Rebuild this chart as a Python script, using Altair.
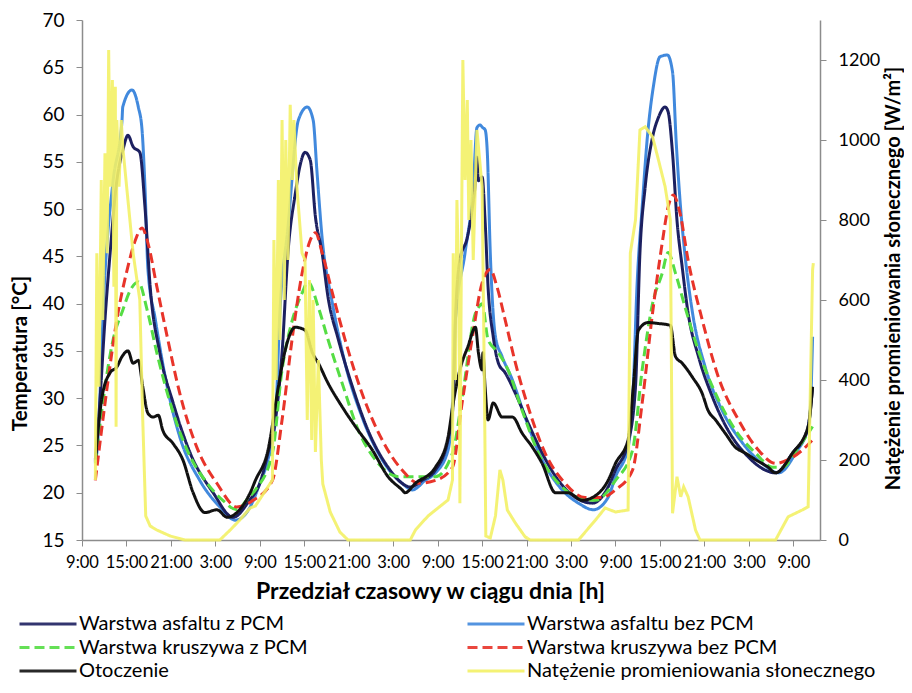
import json
import altair as alt
import pandas as pd

# order chosen so that the two-column legend reads row by row like the reference
SERIES = [
    "Warstwa asfaltu z PCM",
    "Warstwa kruszywa z PCM",
    "Otoczenie",
    "Warstwa asfaltu bez PCM",
    "Warstwa kruszywa bez PCM",
    "Natężenie promieniowania słonecznego",
]
COLORS = ["#1c2060", "#55dd44", "#111111", "#4189dd", "#e8342a", "#f3f166"]
DASHES = [[1, 0], [10, 5], [1, 0], [1, 0], [10, 5], [1, 0]]

# hours counted from the first 9:00
TICK_HOURS = list(range(0, 97, 6))
TICK_LABELS = ["9:00", "15:00", "21:00", "3:00"] * 4 + ["9:00"]
TEMP_TICKS = list(range(15, 71, 5))
RAD_TICKS = list(range(0, 1201, 200))

asfalt_pcm = [(1.8, 23.3), (2.4, 29.5), (3.1, 38.3), (3.8, 45.4), (4.7, 53.0), (5.1, 54.9), (5.5, 56.2),
              (6.2, 57.8), (6.9, 56.6), (7.8, 56.0), (8.5, 50.2), (9.2, 41.8), (10.5, 34.8), (12.3, 29.5),
              (14.6, 24.2), (17.7, 20.0), (20.4, 17.4), (22.6, 19.2), (24.0, 21.0), (25.1, 24.2), (26.1, 27.7),
              (27.0, 34.8), (27.8, 45.4), (28.8, 51.7), (29.4, 54.5), (30.1, 56.0), (30.8, 55.2), (31.5, 49.2),
              (32.4, 45.4), (33.2, 40.7), (34.6, 36.2), (36.5, 31.2), (38.6, 26.6), (41.3, 22.7), (43.2, 21.0),
              (44.3, 20.6), (45.9, 21.3), (47.7, 22.4), (49.4, 25.6), (50.1, 29.5), (50.4, 38.3), (51.0, 44.6),
              (52.0, 47.0), (52.7, 50.2), (53.1, 53.0), (53.3, 55.5), (53.5, 53.0), (54.0, 53.4), (54.4, 48.8),
              (54.8, 41.8), (55.5, 36.5), (56.2, 33.7), (57.1, 32.7), (58.5, 30.5), (60.2, 27.4), (62.1, 24.2),
              (64.3, 21.3), (66.6, 19.5), (68.9, 18.9), (71.0, 20.6), (72.0, 22.4), (73.7, 25.3), (74.7, 31.2),
              (75.3, 45.4), (76.0, 52.3), (77.0, 57.6), (77.8, 59.7), (78.7, 60.8), (79.1, 60.3), (79.7, 55.9),
              (80.3, 48.8), (81.0, 43.9), (81.8, 39.0), (83.2, 34.4), (85.1, 30.1), (87.2, 26.6), (89.9, 23.8),
              (92.2, 22.4), (93.6, 22.1), (95.9, 24.2), (97.9, 26.6), (98.6, 31.2)]

asfalt_bez = [(1.8, 23.3), (2.0, 24.2), (3.1, 43.2), (4.2, 53.0), (5.4, 59.4), (5.5, 60.8), (6.75, 62.6),
              (7.6, 60.8), (8.1, 58.4), (8.5, 52.3), (8.9, 43.6), (9.9, 38.3), (11.5, 31.2), (13.2, 25.9),
              (15.9, 21.3), (18.6, 18.5), (20.7, 17.1), (22.7, 18.5), (24.0, 21.0), (25.1, 23.5), (26.1, 27.7),
              (26.7, 39.0), (27.8, 48.1), (29.2, 59.4), (30.4, 60.8), (31.2, 59.4), (31.7, 54.1), (32.4, 47.0),
              (33.8, 40.0), (35.5, 33.7), (37.8, 28.0), (40.5, 23.5), (43.2, 21.0), (44.6, 20.3), (46.3, 21.3),
              (47.7, 22.1), (49.4, 24.5), (50.1, 31.2), (50.4, 38.3), (51.7, 45.4), (52.8, 52.3), (53.3, 58.6),
              (53.7, 58.9), (54.1, 58.6), (54.4, 58.4), (54.7, 56.0), (55.1, 45.4), (55.8, 36.5), (56.7, 34.4),
              (58.1, 31.9), (59.8, 28.0), (62.1, 23.5), (64.8, 20.3), (67.0, 18.9), (69.0, 18.2), (71.0, 19.5),
              (72.0, 21.7), (73.7, 24.8), (74.4, 31.2), (74.9, 41.8), (75.6, 50.2), (76.3, 57.6), (77.1, 62.9),
              (78.0, 66.1), (79.0, 66.3), (79.7, 64.5), (80.2, 57.0), (80.8, 50.0), (81.4, 45.0), (82.4, 39.0),
              (84.1, 33.3), (86.4, 28.7), (89.1, 25.3), (91.8, 23.1), (94.0, 22.1), (96.3, 24.2), (98.0, 27.0),
              (98.3, 29.0), (98.6, 36.5)]

kruszywo_pcm = [(1.8, 23.1), (2.8, 29.5), (4.2, 36.2), (5.5, 39.3), (6.5, 41.4), (7.6, 42.3), (8.8, 39.3),
                (10.1, 34.8), (11.9, 29.5), (14.2, 24.5), (16.9, 21.0), (19.0, 19.2), (20.9, 18.2), (22.4, 19.4),
                (23.4, 20.3), (25.7, 24.2), (27.0, 33.0), (28.4, 38.3), (29.7, 41.1), (30.5, 42.3), (31.9, 39.6),
                (33.2, 36.2), (35.1, 31.6), (37.3, 26.6), (40.0, 23.1), (42.7, 21.7), (45.0, 21.7), (47.7, 21.7),
                (50.0, 24.2), (51.3, 30.0), (53.1, 39.0), (53.5, 39.6), (54.0, 40.0), (54.8, 36.2), (56.2, 34.8),
                (57.5, 33.0), (59.4, 28.7), (61.6, 24.2), (64.3, 21.0), (67.0, 19.5), (69.3, 19.2), (72.0, 21.3),
                (74.3, 24.5), (75.6, 33.0), (77.0, 40.0), (78.3, 43.2), (79.1, 45.4), (80.1, 43.2), (81.4, 39.6),
                (83.2, 35.0), (85.5, 30.5), (88.2, 26.6), (90.9, 24.2), (93.2, 22.7), (94.5, 22.7), (96.7, 24.8),
                (98.6, 27.0)]

kruszywo_bez = [(1.8, 21.3), (3.4, 31.2), (4.7, 38.3), (6.1, 43.6), (7.2, 46.7), (8.1, 48.0), (8.9, 46.4),
                (10.1, 41.8), (11.5, 36.5), (13.2, 30.5), (15.5, 24.8), (18.2, 21.0), (20.9, 18.5), (23.1, 19.2),
                (25.7, 21.3), (27.0, 27.7), (28.4, 36.5), (29.7, 43.2), (30.8, 46.7), (31.5, 47.5), (32.4, 45.4),
                (33.8, 41.1), (35.5, 36.2), (37.8, 30.5), (40.5, 25.6), (43.2, 22.4), (45.4, 21.0), (47.7, 21.3),
                (50.0, 22.7), (51.3, 29.5), (52.7, 36.5), (54.0, 42.2), (55.1, 43.6), (56.0, 41.8), (57.1, 38.3),
                (58.5, 33.7), (60.2, 29.1), (62.5, 24.2), (65.2, 21.0), (67.9, 19.5), (70.2, 19.5), (72.0, 20.3),
                (74.3, 22.4), (75.6, 29.5), (77.0, 39.0), (78.3, 46.4), (79.1, 50.2), (79.8, 51.5), (80.7, 49.6),
                (81.8, 44.6), (83.7, 38.3), (85.9, 32.2), (88.6, 27.7), (91.3, 24.5), (93.6, 23.1), (95.3, 23.5),
                (97.2, 24.5), (98.6, 25.6)]

otoczenie = [(1.8, 23.5), (2.7, 30.1), (3.8, 32.7), (4.7, 33.3), (5.4, 34.4), (6.2, 35.0), (6.9, 33.7),
             (7.6, 34.0), (8.2, 31.2), (8.9, 28.4), (9.6, 28.0), (10.3, 28.2), (10.9, 26.6), (12.3, 25.2),
             (13.6, 23.5), (15.0, 20.0), (16.6, 17.9), (18.2, 18.2), (19.6, 17.4), (20.9, 17.9), (22.7, 20.0),
             (23.4, 21.3), (25.1, 24.5), (26.5, 31.2), (27.4, 35.0), (28.8, 37.5), (30.1, 37.2), (31.1, 34.8),
             (31.9, 33.7), (33.2, 31.6), (35.1, 29.1), (36.9, 27.0), (39.2, 24.5), (41.3, 21.7), (43.2, 20.3),
             (43.6, 20.0), (45.0, 21.0), (47.7, 22.7), (49.4, 25.9), (50.1, 29.5), (51.0, 33.0), (52.1, 35.5),
             (53.1, 37.5), (53.5, 34.8), (54.0, 33.0), (54.1, 34.8), (54.4, 31.2), (54.8, 27.7), (55.5, 29.5),
             (56.7, 28.0), (58.1, 28.0), (59.4, 26.3), (60.8, 24.8), (62.1, 23.1), (63.9, 20.0), (65.6, 20.0),
             (67.5, 19.2), (68.9, 19.5), (71.0, 21.3), (72.0, 23.1), (73.7, 25.6), (74.4, 31.2), (75.1, 37.2),
             (76.4, 38.0), (77.8, 37.9), (79.4, 37.7), (80.1, 34.4), (81.0, 33.7), (82.4, 32.2), (83.7, 30.5),
             (84.5, 28.7), (85.5, 27.7), (86.8, 26.3), (88.2, 24.8), (89.5, 24.2), (90.9, 23.5), (92.6, 22.7),
             (93.6, 22.1), (95.9, 24.2), (98.0, 27.0), (98.6, 31.2)]

promieniowanie = [(1.8, 150), (2.0, 717), (2.3, 383), (2.6, 900), (2.8, 550), (3.1, 967), (3.4, 717), (3.6, 1225),
                  (3.8, 883), (4.1, 1150), (4.3, 633), (4.5, 1133), (4.6, 283), (4.7, 1050), (5.0, 883),
                  (5.3, 1050), (5.5, 983), (6.9, 717), (7.8, 600), (8.2, 300), (8.6, 60), (9.2, 35), (10.1, 25),
                  (11.9, 10), (13.9, 0), (18.6, 0), (20.0, 25), (21.3, 50), (22.7, 80), (23.4, 85), (25.1, 133),
                  (25.7, 150), (25.9, 750), (26.2, 400), (26.5, 900), (26.7, 500), (27.0, 1050), (27.3, 600),
                  (27.5, 1000), (27.8, 700), (28.1, 1088), (28.4, 900), (28.6, 1050), (29.0, 883), (29.7, 717),
                  (30.1, 700), (30.4, 300), (30.7, 650), (31.0, 250), (31.2, 600), (31.5, 220), (31.9, 450),
                  (32.3, 200), (32.5, 140), (33.5, 70), (34.8, 20), (35.9, 0), (44.3, 0), (45.0, 25), (46.7, 60),
                  (47.7, 75), (49.4, 100), (50.0, 150), (50.1, 717), (50.4, 400), (50.6, 850), (50.9, 600),
                  (51.0, 92), (51.2, 700), (51.4, 1200), (51.7, 900), (52.0, 1100), (52.2, 800), (52.5, 1000),
                  (52.8, 700), (53.1, 900), (53.3, 1025), (54.0, 883), (54.3, 400), (54.5, 10), (55.1, 5),
                  (55.8, 60), (56.4, 175), (56.8, 150), (57.4, 75), (58.5, 42), (59.8, 8), (60.5, 0), (67.0, 0),
                  (69.3, 50), (70.6, 80), (72.0, 70), (73.7, 75), (74.0, 717), (74.7, 800), (75.3, 1025),
                  (76.0, 1033), (77.0, 1008), (77.8, 950), (78.7, 883), (79.4, 800), (79.7, 67), (80.3, 158),
                  (80.8, 108), (81.2, 133), (81.8, 108), (82.8, 25), (83.4, 0), (93.6, 0), (95.3, 58), (97.2, 75),
                  (98.0, 83), (98.6, 675), (98.7, 692)]


def frame(pairs, name, col):
    return pd.DataFrame({"h": [p[0] for p in pairs], col: [p[1] for p in pairs], "series": name})


temp_df = pd.concat([
    frame(asfalt_bez, "Warstwa asfaltu bez PCM", "temp"),
    frame(asfalt_pcm, "Warstwa asfaltu z PCM", "temp"),
    frame(kruszywo_pcm, "Warstwa kruszywa z PCM", "temp"),
    frame(kruszywo_bez, "Warstwa kruszywa bez PCM", "temp"),
    frame(otoczenie, "Otoczenie", "temp"),
], ignore_index=True)
rad_df = frame(promieniowanie, "Natężenie promieniowania słonecznego", "rad")

FONT = "Lato"
label_expr = json.dumps(TICK_LABELS) + "[round(datum.value / 6)]"

x_enc = alt.X(
    "h:Q",
    scale=alt.Scale(domain=[0, 99.6], nice=False, zero=False),
    axis=alt.Axis(values=TICK_HOURS, labelExpr=label_expr, title="Przedział czasowy w ciągu dnia [h]",
                  tickSize=6, labelPadding=8, labelFontSize=16.5, labelOverlap=False,
                  titleX=348, titleY=58, titleBaseline="alphabetic", titleFontSize=23),
)

legend = alt.Legend(
    title=None, orient="none", legendX=-64, legendY=594, columns=2, columnPadding=158,
    symbolType="stroke", symbolSize=3249, symbolStrokeWidth=3, clipHeight=20, rowPadding=3.5,
    labelFont=FONT, labelFontSize=20, labelOffset=1, labelLimit=420,
)
color_enc = alt.Color("series:N", scale=alt.Scale(domain=SERIES, range=COLORS), legend=legend)
dash_enc = alt.StrokeDash("series:N", scale=alt.Scale(domain=SERIES, range=DASHES), legend=legend)

temp_lines = alt.Chart(temp_df).mark_line(strokeWidth=3, interpolate="monotone").encode(
    x=x_enc,
    y=alt.Y("temp:Q", scale=alt.Scale(domain=[15, 70], nice=False, zero=False),
            axis=alt.Axis(values=TEMP_TICKS, orient="left", title="Temperatura [°C]", tickSize=6,
                          labelPadding=12, labelFontSize=19, titleAngle=270, titleX=-52, titleY=333,
                          titleAlign="center", titleBaseline="bottom", titleFontSize=20.5)),
    color=color_enc,
    strokeDash=dash_enc,
)

rad_line = alt.Chart(rad_df).mark_line(strokeWidth=3, opacity=0.9).encode(
    x=x_enc,
    y=alt.Y("rad:Q", scale=alt.Scale(domain=[0, 1300], nice=False, zero=True),
            axis=alt.Axis(values=RAD_TICKS, format="d", orient="right",
                          title="Natężenie promieniowania słonecznego [W/m²]",
                          tickSize=6, labelPadding=12, labelFontSize=18, titleAngle=270, titleX=83,
                          titleY=258, titleAlign="center", titleBaseline="bottom", titleFontSize=20)),
    color=color_enc,
    strokeDash=dash_enc,
)

chart = (
    alt.layer(temp_lines, rad_line)
    .resolve_scale(y="independent")
    .properties(width=738, height=520, autosize=alt.AutoSizeParams(type="none"),
                padding={"left": 74, "top": 12, "right": 84, "bottom": 145})
    .configure(font=FONT)
    .configure_view(strokeWidth=0)
    .configure_axis(grid=False, domainColor="#8c8c8c", tickColor="#8c8c8c", domainWidth=1.5,
                    labelColor="#000000", titleColor="#000000", labelFont=FONT, titleFont=FONT,
                    titleFontWeight="bold", labelBound=False, labelFlush=False)
    .configure_legend(labelColor="#000000")
)

chart.save("out.html", embed_options={"renderer": "svg", "actions": False})
